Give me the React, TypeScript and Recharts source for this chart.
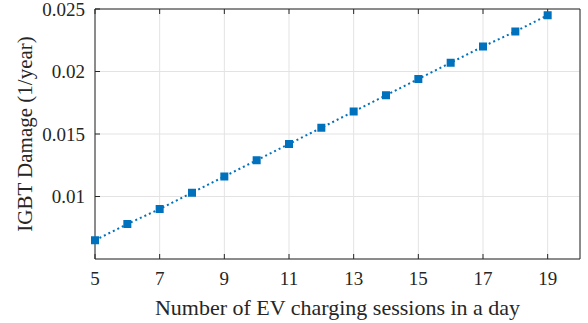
import React from 'react';
import {
  LineChart,
  Line,
  XAxis,
  YAxis,
  CartesianGrid,
  Label,
} from 'recharts';

const sessions = [5, 6, 7, 8, 9, 10, 11, 12, 13, 14, 15, 16, 17, 18, 19];
const damage = [
  0.0065, 0.0078, 0.009, 0.0103, 0.0116, 0.0129, 0.0142, 0.0155, 0.0168,
  0.0181, 0.0194, 0.0207, 0.022, 0.0232, 0.0245,
];
const xTicks = [5, 7, 9, 11, 13, 15, 17, 19];
const yTicks = [0.01, 0.015, 0.02, 0.025];

const data = sessions.map((s, i) => ({ sessions: s, damage: damage[i] }));

const AXIS = '#262626';
const BLUE = '#0072BD';
const FONT = '"Liberation Serif", "Times New Roman", serif';
const tickStyle = { fontFamily: FONT, fontSize: 19, fill: AXIS };

const SquareDot = (props: any) => {
  const { cx, cy } = props;
  if (cx == null || cy == null) return null;
  const s = 8;
  return <rect x={cx - s / 2} y={cy - s / 2} width={s} height={s} fill={BLUE} />;
};

const XTick = (props: any) => {
  const { x, y, payload } = props;
  return (
    <text x={x} y={y} dy="0.71em" textAnchor="middle" style={tickStyle}>
      {payload.value}
    </text>
  );
};

const YTick = (props: any) => {
  const { x, y, payload } = props;
  return (
    <text x={x} y={y} dy="0.355em" textAnchor="end" style={tickStyle}>
      {String(+Number(payload.value).toFixed(3))}
    </text>
  );
};

const NoTick = () => <text />;

export default function App() {
  return (
    <div style={{ position: 'absolute', left: 0, top: 0, fontFamily: FONT }}>
      <LineChart
        width={588}
        height={323}
        data={data}
        margin={{ top: 0, right: 0, bottom: 0, left: 0 }}
      >
        <CartesianGrid stroke="#e3e3e3" strokeWidth={1} />
        <XAxis
          dataKey="sessions"
          type="number"
          domain={[5, 20]}
          ticks={xTicks}
          height={64}
          stroke={AXIS}
          tickSize={-5}
          tickMargin={18}
          tick={XTick}
        >
          <Label
            value="Number of EV charging sessions in a day"
            position="insideBottom"
            offset={8}
            style={{ fill: AXIS, fontSize: 22, fontFamily: FONT }}
          />
        </XAxis>
        <XAxis
          xAxisId="top"
          orientation="top"
          dataKey="sessions"
          type="number"
          domain={[5, 20]}
          ticks={xTicks}
          height={9}
          stroke={AXIS}
          tickSize={-5}
          tick={NoTick}
        />
        <YAxis
          type="number"
          domain={[0.005, 0.025]}
          ticks={yTicks}
          width={95}
          stroke={AXIS}
          tickSize={-5}
          tickMargin={15}
          tick={YTick}
        >
          <Label
            value="IGBT Damage (1/year)"
            angle={-90}
            position="insideLeft"
            offset={25}
            textAnchor="middle"
            style={{ fill: AXIS, fontSize: 21, fontFamily: FONT, textAnchor: 'middle' }}
          />
        </YAxis>
        <YAxis
          yAxisId="right"
          orientation="right"
          type="number"
          domain={[0.005, 0.025]}
          ticks={yTicks}
          width={8}
          stroke={AXIS}
          tickSize={-5}
          tick={NoTick}
        />
        <Line
          dataKey="damage"
          stroke={BLUE}
          strokeWidth={2}
          strokeDasharray="2 3"
          dot={<SquareDot />}
          activeDot={false}
          isAnimationActive={false}
        />
      </LineChart>
    </div>
  );
}
